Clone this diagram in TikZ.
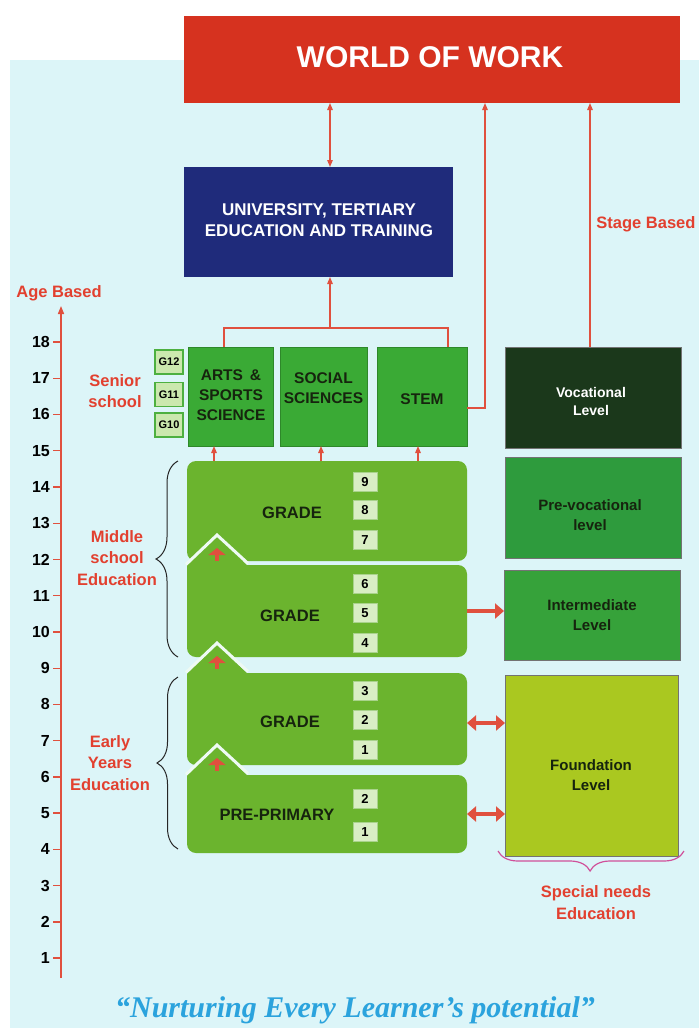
\documentclass[tikz,border=0pt]{standalone}
\usepackage{fontspec}
\setmainfont{Liberation Sans}
\newfontfamily\qfont{Liberation Serif}
\usetikzlibrary{arrows.meta,decorations.pathreplacing,calc}
\definecolor{bgc}{HTML}{DCF5F8}
\definecolor{wowred}{HTML}{D6321F}
\definecolor{univblue}{HTML}{1F2B7B}
\definecolor{sgreen}{HTML}{3AAA35}
\definecolor{bgreen}{HTML}{6BB42E}
\definecolor{numfill}{HTML}{D9EEC4}
\definecolor{numdraw}{HTML}{A9D38B}
\definecolor{gfill}{HTML}{CBE8AE}
\definecolor{gdraw}{HTML}{4DB040}
\definecolor{vocc}{HTML}{1B381B}
\definecolor{prevoc}{HTML}{2E9B3D}
\definecolor{interc}{HTML}{36A23A}
\definecolor{foundc}{HTML}{AAC820}
\definecolor{tred}{HTML}{E2402F}
\definecolor{lred}{HTML}{E0503E}
\definecolor{qblue}{HTML}{2BA3DD}
\definecolor{magc}{HTML}{D0509A}
\definecolor{darktxt}{HTML}{16240E}
\definecolor{gapc}{HTML}{EEFAF4}
\begin{document}
\begin{tikzpicture}[x=1pt,y=-1pt,
  box/.style={rectangle, inner sep=0pt, outer sep=0pt},
  redlbl/.style={text=tred, font=\bfseries\fontsize{16.5}{21.5}\selectfont, align=center},
  dlbl/.style={text=darktxt, font=\bfseries\fontsize{15.5}{20}\selectfont, align=center},
  numbox/.style={box, fill=numfill, draw=numdraw, line width=1pt, minimum width=24pt, minimum height=19pt, font=\bfseries\fontsize{13}{13}\selectfont},
  gbox/.style={box, fill=gfill, draw=gdraw, line width=1.5pt, minimum width=28pt, minimum height=24pt, font=\bfseries\fontsize{11}{11}\selectfont},
  rl/.style={draw=lred, line width=1.3pt},
  ra/.style={rl, -{Triangle[length=7pt,width=5.5pt]}},
  rda/.style={rl, {Triangle[length=7pt,width=5.5pt]}-{Triangle[length=7pt,width=5.5pt]}},
  thk/.style={draw=lred, line width=3.5pt, -{Triangle[length=9pt,width=15pt]}},
  thkd/.style={draw=lred, line width=3.5pt, {Triangle[length=9pt,width=15pt]}-{Triangle[length=9pt,width=15pt]}},
  uparr/.style={draw=lred, line width=4pt, -{Triangle[length=7pt,width=17pt]}},
  bbox/.style={box, fill=bgreen, rounded corners=9pt, minimum width=280pt},
  sbox/.style={box, fill=sgreen, draw=sgreen!80!black, line width=0.5pt, minimum height=99pt},
  lvl/.style={box, draw=black!55, line width=0.8pt, minimum width=176pt}
]
\useasboundingbox (0,0) rectangle (699,1028);
\fill[white] (0,0) rectangle (699,1028);
\fill[bgc] (10,60) rectangle (699,1028);

% top boxes
\node[box, fill=wowred, minimum width=496pt, minimum height=87pt] (wow) at (432,59.5) {};
\node[text=white, font=\bfseries\fontsize{30}{30}\selectfont] (wowt) at (430,57.5) {WORLD OF WORK};
\node[box, fill=univblue, minimum width=269pt, minimum height=110pt] (univ) at (318.5,222) {};
\node[text=white, font=\bfseries\fontsize{17}{21}\selectfont, align=center] (univt) at (319,220) {UNIVERSITY, TERTIARY\\EDUCATION AND TRAINING};

% senior school boxes
\node[sbox, minimum width=85pt] (arts) at (230.5,396.5) {};
\node[sbox, minimum width=87pt] (soc) at (323.5,396.5) {};
\node[sbox, minimum width=90pt] (stem) at (422,396.5) {};
\node[dlbl] (artst) at (231,395) {ARTS \,\&\\SPORTS\\SCIENCE};
\node[dlbl] (soct) at (323.5,388) {SOCIAL\\SCIENCES};
\node[dlbl] (stemt) at (422,399) {STEM};

\node[gbox] (g12) at (169,362) {G12};
\node[gbox] (g11) at (169,394.5) {G11};
\node[gbox] (g10) at (169,425) {G10};

% level boxes
\node[lvl, fill=vocc, minimum height=101pt] (voc) at (593.5,397.5) {};
\node[text=white, font=\bfseries\fontsize{14}{18}\selectfont, align=center] (voct) at (591,401) {Vocational\\Level};
\node[lvl, fill=prevoc, minimum height=101pt] (prev) at (593.5,507.5) {};
\node[dlbl, font=\bfseries\fontsize{15}{20}\selectfont] (prevt) at (590,515) {Pre-vocational\\level};
\node[lvl, fill=interc, minimum height=90pt] (inter) at (592,615) {};
\node[dlbl, font=\bfseries\fontsize{15}{20}\selectfont] (intert) at (592,615) {Intermediate\\Level};
\node[lvl, fill=foundc, minimum width=173pt, minimum height=181pt] (found) at (591.5,765.5) {};
\node[dlbl, font=\bfseries\fontsize{15}{20}\selectfont] (foundt) at (591,775.5) {Foundation\\Level};

% grade blocks
\node[bbox, minimum height=100pt] (b1) at (327,511) {};
\node[bbox, minimum height=92pt] (b2) at (327,611) {};
\node[bbox, minimum height=92pt] (b3) at (327,719) {};
\node[bbox, minimum height=78pt] (b4) at (327,814) {};
% peaks
\foreach \t in {565,673,775}{
  \fill[bgreen] (187,\t+12) -- (187,\t) -- (217,\t-28) -- (247,\t) -- (247,\t+12) -- cycle;
  \draw[gapc, line width=3pt, line join=miter] (186,\t-0.5) -- (217,\t-30) -- (248,\t-1.5);
  \draw[uparr] (217,\t-4) -- (217,\t-17);
}

\node[font=\bfseries\fontsize{16.5}{16.5}\selectfont, text=darktxt] (gr1) at (292,513) {GRADE};
\node[font=\bfseries\fontsize{16.5}{16.5}\selectfont, text=darktxt] (gr2) at (290,616) {GRADE};
\node[font=\bfseries\fontsize{16.5}{16.5}\selectfont, text=darktxt] (gr3) at (290,722) {GRADE};
\node[font=\bfseries\fontsize{16.5}{16.5}\selectfont, text=darktxt] (gr4) at (277,815) {PRE-PRIMARY};

\node[numbox] (n9) at (365,482) {9};
\node[numbox] (n8) at (365,510) {8};
\node[numbox] (n7) at (365,540) {7};
\node[numbox] (n6) at (365,584) {6};
\node[numbox] (n5) at (365,613) {5};
\node[numbox] (n4) at (365,643) {4};
\node[numbox] (n3) at (365,691) {3};
\node[numbox] (n2) at (365,720) {2};
\node[numbox] (n1) at (365,750) {1};
\node[numbox] (p2) at (365,799) {2};
\node[numbox] (p1) at (365,832) {1};

% connectors top
\coordinate (xm) at (330,0);
\coordinate (xr) at (485,0);
\coordinate (xa) at (224,0);
\coordinate (xs) at (448,0);
\coordinate (xv) at (590,0);
\coordinate (jn) at (330,328);
\draw[rda] (univ.north -| xm) -- (wow.south -| xm);
\draw[ra] (jn) -- (univ.south -| jn);
\draw[rl] (arts.north -| xa) -- (xa |- jn) -- (xs |- jn) -- (stem.north -| xs);
\draw[ra] ($(stem.east)+(0,11.5)$) -| (wow.south -| xr);
\draw[ra, draw=lred, fill=lred] (voc.north -| xv) -- (wow.south -| xv);
\node[text=tred, font=\bfseries\fontsize{16.5}{16.5}\selectfont] (stage) at (646,224) {Stage Based};

% arrows from grade 7-9 to senior
\coordinate (ya) at (214,0);
\coordinate (ys) at (321,0);
\coordinate (yt) at (418,0);
\draw[ra] (b1.north -| ya) -- (arts.south -| ya);
\draw[ra] (b1.north -| ys) -- (soc.south -| ys);
\draw[ra] (b1.north -| yt) -- (stem.south -| yt);

% arrows to levels
\draw[thk] (b2.east) -- (inter.west |- b2.east);
\coordinate (y3) at (0,723);
\draw[thkd] (b3.east |- y3) -- (found.west |- y3);
\draw[thkd] (b4.east) -- (found.west |- b4.east);

% age axis
\coordinate (axb) at (61,978);
\coordinate (axt) at (61,306);
\draw[draw=lred, line width=1.5pt, -{Triangle[length=8pt,width=6pt]}] (axb) -- (axt);
\foreach \a in {1,...,18}{
  \pgfmathsetmacro{\yy}{342+(18-\a)*36.24}
  \draw[draw=lred, line width=1.3pt] (53,\yy) -- (61,\yy);
  \node[anchor=east, font=\bfseries\fontsize{16}{16}\selectfont, inner sep=0pt] at (50,\yy) {\a};
}
\node[text=tred, font=\bfseries\fontsize{16.5}{16.5}\selectfont] (ageb) at (59,293) {Age Based};

% side labels and braces
\node[redlbl] (senior) at (115,391) {Senior\\school};
\node[redlbl] (middle) at (117,558) {Middle\\school\\Education};
\node[redlbl] (early) at (110,763) {Early\\Years\\Education};
\draw[black!85, line width=1pt, decorate, decoration={brace, amplitude=22pt, aspect=0.5}] (178,657) -- (178,461);
\draw[black!85, line width=1pt, decorate, decoration={brace, amplitude=21pt, aspect=0.5}] (178,849) -- (178,677);
\draw[magc, line width=1.2pt, decorate, decoration={brace, amplitude=20pt, aspect=0.505}] (684,851) -- (498,851);
\node[redlbl] (special) at (596,902.5) {Special needs\\Education};

% quote
\node[anchor=base, text=qblue, font=\qfont\bfseries\itshape\fontsize{30}{30}\selectfont] (quote) at (355,1017) {“Nurturing Every Learner’s potential”};
\end{tikzpicture}
\end{document}
